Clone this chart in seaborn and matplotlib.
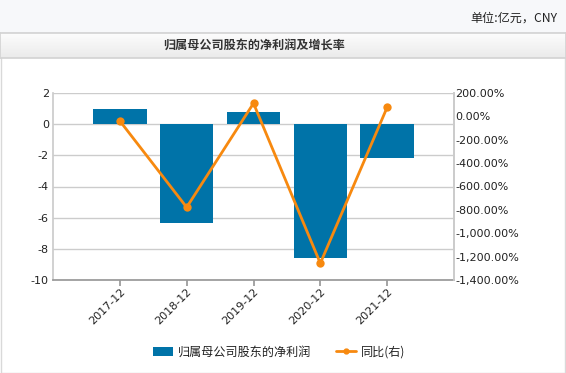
import numpy as np
import matplotlib
matplotlib.use("Agg")
import matplotlib.pyplot as plt
from matplotlib.patches import Rectangle
from matplotlib.lines import Line2D
from matplotlib.ticker import FuncFormatter, FixedLocator
import seaborn as sns

# data
periods = ["2017-12", "2018-12", "2019-12", "2020-12", "2021-12"]
net_profit = [0.96, -6.33, 0.77, -8.58, -2.16]      # 亿元
yoy_pct = [-39.0, -778.0, 112.0, -1257.0, 78.0]      # %

bar_color = "#0073a8"
line_color = "#f7890f"
cjk = ["Noto Sans CJK SC", "DejaVu Sans"]

sns.set_theme(style="white")
plt.rcParams["font.family"] = ["DejaVu Sans", "Noto Sans CJK SC"]
plt.rcParams["axes.unicode_minus"] = False

W, H = 566, 373
fig = plt.figure(figsize=(W / 100, H / 100), dpi=100)
fig.patch.set_facecolor("white")

# top strip with unit text
fig.add_artist(Rectangle((0, 1 - 33 / H), 1, 33 / H, transform=fig.transFigure,
                         facecolor="#f7f8fa", edgecolor="none", zorder=0))
fig.text(557 / W, 1 - 18 / H, "单位:亿元，CNY", ha="right", va="center",
         fontsize=8.7, color="#222222", family=cjk)

# title bar with a soft gradient
tax = fig.add_axes([0, 1 - 58 / H, 1, 25 / H], zorder=1)
grad = np.linspace(0.99, 0.92, 50).reshape(-1, 1)
tax.imshow(np.dstack([grad, grad, grad]), aspect="auto", extent=[0, 1, 0, 1])
tax.set_xlim(0, 1)
tax.set_ylim(0, 1)
tax.set_xticks([])
tax.set_yticks([])
for s in tax.spines.values():
    s.set_color("#d4d4d4")
tax.text(254 / W, 0.5, "归属母公司股东的净利润及增长率", ha="center", va="center",
         fontsize=8.7, fontweight="bold", color="#333333", family=cjk)

# panel border
fig.add_artist(Rectangle((1 / W, 0), (W - 2) / W, 1 - 33 / H, transform=fig.transFigure,
                         facecolor="none", edgecolor="#d9d9d9", linewidth=1, zorder=0))

# main chart
ax = fig.add_axes([53 / W, (H - 280) / H, (454 - 53) / W, (280 - 93) / H])
sns.barplot(x=periods, y=net_profit, color=bar_color, width=0.8, saturation=1,
            edgecolor="none", ax=ax, zorder=2)
ax.set_xlim(-1, 5)
ax.set_ylim(-10, 2)
ax.set_yticks(range(-10, 3, 2))
ax.yaxis.grid(True, color="#cccccc", linewidth=1)
ax.set_axisbelow(True)
ax.spines["top"].set_visible(False)
ax.spines["left"].set_color("#cccccc")
ax.spines["right"].set_color("#cccccc")
ax.spines["bottom"].set_color("#999999")
ax.tick_params(axis="y", length=0, pad=3, labelsize=8, labelcolor="#222222")
ax.tick_params(axis="x", length=4, color="#999999", pad=1, labelsize=8, labelcolor="#222222",
               bottom=True)
ax.set_xticks(range(len(periods)))
ax.set_xticklabels(periods, rotation=45, ha="right", rotation_mode="anchor")
ax.xaxis.set_minor_locator(FixedLocator([-1, 5]))
ax.tick_params(axis="x", which="minor", length=4, color="#999999")
ax.set_xlabel("")
ax.set_ylabel("")

ax2 = ax.twinx()
sns.lineplot(x=list(range(len(periods))), y=yoy_pct, color=line_color, linewidth=2,
             marker="o", markersize=6, markeredgewidth=0, ax=ax2, zorder=3)
ax2.set_xlim(-1, 5)
ax2.set_ylim(-1400, 200)
ax2.set_yticks(range(-1400, 201, 200))
ax2.yaxis.set_major_formatter(FuncFormatter(lambda v, p: f"{v:,.2f}%"))
ax2.tick_params(axis="y", length=0, pad=1, labelsize=8, labelcolor="#222222")
for side in ["top", "left", "bottom"]:
    ax2.spines[side].set_visible(False)
ax2.spines["right"].set_color("#cccccc")
ax2.set_ylabel("")

# legend
handles = [Rectangle((0, 0), 1, 1, facecolor=bar_color, edgecolor="none"),
           Line2D([0], [0], color=line_color, linewidth=2, marker="o", markersize=3.5)]
leg = fig.legend(handles, ["归属母公司股东的净利润", "同比(右)"], loc="center",
                 bbox_to_anchor=(279 / W, 1 - 352 / H), ncol=2, frameon=False,
                 prop={"family": cjk, "size": 8.7}, handlelength=1.7, handleheight=0.8,
                 columnspacing=2.0, handletextpad=0.4)
for t in leg.get_texts():
    t.set_color("#222222")

fig.savefig("out.png", dpi=100)
